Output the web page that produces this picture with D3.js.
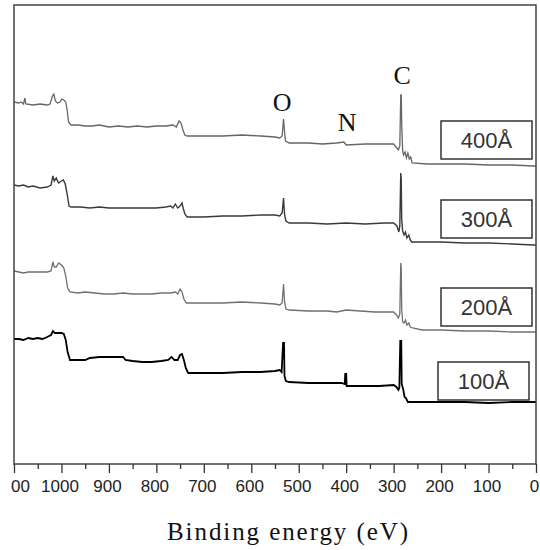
<!DOCTYPE html>
<html><head><meta charset="utf-8">
<script src="https://cdn.jsdelivr.net/npm/d3@7"></script>
<style>body{margin:0;background:#fff}svg{display:block}</style>
</head><body>
<svg id="c" width="540" height="550"></svg>
<script>
// ---- data (binding energy eV, intensity a.u.) ----
const seriesNames = ["400Å","300Å","200Å","100Å"];
const s400 = [[1100,362],[1090,361],[1085,362],[1080,360],[1077,366],[1075,360],[1060,359],[1045,360],[1030,359],[1024,360],[1019,368],[1016,370],[1013,363],[1008,361],[1003,362],[999,365],[995,364],[991,362],[988,354],[985,342],[980,339],[965,339],[950,338],[935,338],[920,339],[900,337],[880,338],[860,337],[840,338],[820,337],[800,338],[780,338],[765,339],[758,337],[752,343],[748,341],[744,334],[740,329],[735,328],[700,328],[660,328],[620,329],[580,328],[550,327],[540,326],[535,328],[532,345],[530,333],[528,323],[520,321],[480,321],[450,320],[420,321],[405,322],[400,319],[360,320],[320,320],[300,320],[295,317],[290,314],[287,318],[285,369],[284,369],[283,340],[281,313],[279,309],[276,312],[273,306],[270,311],[267,305],[264,307],[261,301],[230,300],[200,300],[150,300],[100,299],[50,299],[5,298],[0,298]];
const s300 = [[1100,279],[1090,278],[1080,279],[1070,277],[1060,278],[1045,276],[1030,277],[1022,279],[1018,288],[1015,283],[1011,286],[1006,281],[1000,283],[996,284],[992,280],[988,270],[984,258],[980,257],[960,257],[940,256],[920,257],[900,256],[880,256],[860,256],[840,256],[820,256],[800,256],[780,257],[770,258],[765,256],[760,260],[755,256],[750,258],[746,261],[743,255],[740,250],[735,247],[700,247],[660,248],[620,248],[580,249],[550,249],[540,248],[535,251],[532,266],[530,250],[527,243],[520,241],[480,241],[440,240],[400,241],[360,240],[320,241],[300,241],[293,238],[289,232],[287,238],[285,291],[284,285],[283,245],[281,233],[278,229],[275,232],[272,226],[268,229],[265,224],[262,222],[200,222],[150,221],[100,221],[50,220],[5,219],[0,219]];
const s200 = [[1100,193],[1090,192],[1080,191],[1070,192],[1060,192],[1045,192],[1030,192],[1022,193],[1018,202],[1015,197],[1011,197],[1006,201],[1000,199],[995,196],[991,188],[987,176],[982,172],[965,171],[950,172],[930,171],[910,170],[890,170],[870,171],[850,170],[830,170],[810,170],[790,171],[770,171],[760,172],[755,170],[750,175],[746,172],[742,165],[737,161],[700,161],[660,161],[620,162],[580,161],[550,160],[540,159],[535,161],[532,180],[530,163],[527,155],[520,154],[480,153],[440,153],[420,152],[410,153],[400,154],[370,153],[340,152],[320,152],[300,152],[294,149],[290,146],[287,150],[285,201],[284,196],[283,155],[281,142],[278,141],[275,144],[272,139],[268,141],[265,137],[260,136],[240,134],[200,134],[150,133],[100,133],[50,132],[0,132]];
const s100 = [[1100,125],[1090,125],[1080,124],[1070,126],[1060,125],[1050,126],[1040,125],[1030,127],[1022,129],[1018,133],[1014,131],[1008,131],[1000,131],[995,130],[991,124],[987,112],[982,104],[970,104],[950,104],[940,106],[920,107],[900,107],[880,107],[870,107],[865,104],[850,103],[830,102],[810,102],[790,103],[775,104],[768,107],[762,104],[755,104],[750,109],[746,110],[742,104],[738,96],[733,91],[700,91],[660,91],[620,92],[580,92],[550,93],[540,94],[536,92],[533,121],[531,121],[530,88],[527,83],[520,82],[480,81],[440,81],[410,81],[403,80],[402,90],[400,90],[399,78],[370,78],[330,78],[300,79],[294,77],[290,74],[288,76],[286,123],[284,123],[283,80],[280,75],[277,67],[274,66],[270,62],[200,62],[150,62],[100,61],[50,62],[0,62]];
const allSeries = [s400, s300, s200, s100];
const elementNames = ["O","N","C"];
const elementEnergies = [535, 398, 282];
const majorTicks = [1100,1000,900,800,700,600,500,400,300,200,100,0];
const majorTickLabels = ["00","1000","900","800","700","600","500","400","300","200","100","0"];
const minorTicks = [1050,950,850,750,650,550,450,350,250,150,50];
const xTitle = "Binding energy (eV)";

// ---- layout ----
const L = 14, R = 536, T = 5, B = 464;
const svg = d3.select("#c");
const x = d3.scaleLinear().domain([1100, 0]).range([L, R]);
const y = d3.scaleLinear().domain([0, 459]).range([B, T]);

const colors = ["#666", "#3a3a3a", "#707070", "#000"];
const widths = [1.3, 1.4, 1.3, 1.8];

const line = d3.line().x(d => x(d[0])).y(d => y(d[1]));
svg.append("g").selectAll("path").data(allSeries).join("path")
  .attr("d", line).attr("fill", "none")
  .attr("stroke", (d, i) => colors[i]).attr("stroke-width", (d, i) => widths[i])
  .attr("stroke-linejoin", "miter");

// frame
svg.append("rect").attr("x", L).attr("y", T).attr("width", R - L).attr("height", B - T)
  .attr("fill", "none").attr("stroke", "#444").attr("stroke-width", 1.5);

// axis
const ax = svg.append("g").attr("transform", `translate(0,${B})`);
ax.call(d3.axisBottom(x).tickValues(majorTicks).tickSize(9)
  .tickFormat((d, i) => majorTickLabels[i]));
ax.select(".domain").remove();
ax.selectAll(".tick line").attr("stroke", "#333").attr("stroke-width", 1.3);
ax.selectAll(".tick text").attr("font-family", "'Liberation Sans Narrow','Liberation Sans',Arial,sans-serif")
  .attr("font-size", 17).attr("fill", "#222").attr("dy", "0.95em")
  .attr("dx", (d, i) => i === 0 ? 6 : -2);
const ax2 = svg.append("g").attr("transform", `translate(0,${B})`);
ax2.call(d3.axisBottom(x).tickValues(minorTicks).tickSize(5).tickFormat(""));
ax2.select(".domain").remove();
ax2.selectAll(".tick line").attr("stroke", "#333").attr("stroke-width", 1.3);

// x title
svg.append("text").attr("x", 287.5).attr("y", 540).attr("text-anchor", "middle")
  .attr("font-family", "'Liberation Serif','Times New Roman',serif").attr("font-size", 25)
  .attr("fill", "#111").attr("textLength", 241).attr("lengthAdjust", "spacing").text(xTitle);

// element labels
const elY = [111, 131, 84];
svg.append("g").selectAll("text").data(elementNames).join("text")
  .attr("x", (d, i) => x(elementEnergies[i])).attr("y", (d, i) => elY[i])
  .attr("text-anchor", "middle").attr("font-family", "'Liberation Serif','Times New Roman',serif")
  .attr("font-size", 26).attr("fill", "#111").text(d => d);

// thickness boxes
const boxX = [441, 441, 441, 438], boxY = [121, 200, 288, 362], boxW = 91, boxH = 38;
const bg = svg.append("g").selectAll("g").data(seriesNames).join("g")
  .attr("transform", (d, i) => `translate(${boxX[i]},${boxY[i]})`);
bg.append("rect").attr("width", boxW).attr("height", boxH).attr("fill", "#fff")
  .attr("stroke", "#333").attr("stroke-width", 1.5);
bg.append("text").attr("x", boxW / 2).attr("y", 27).attr("text-anchor", "middle")
  .attr("font-family", "'Liberation Sans',Arial,sans-serif").attr("font-size", 22)
  .attr("fill", "#333").text(d => d);
</script>
</body></html>
